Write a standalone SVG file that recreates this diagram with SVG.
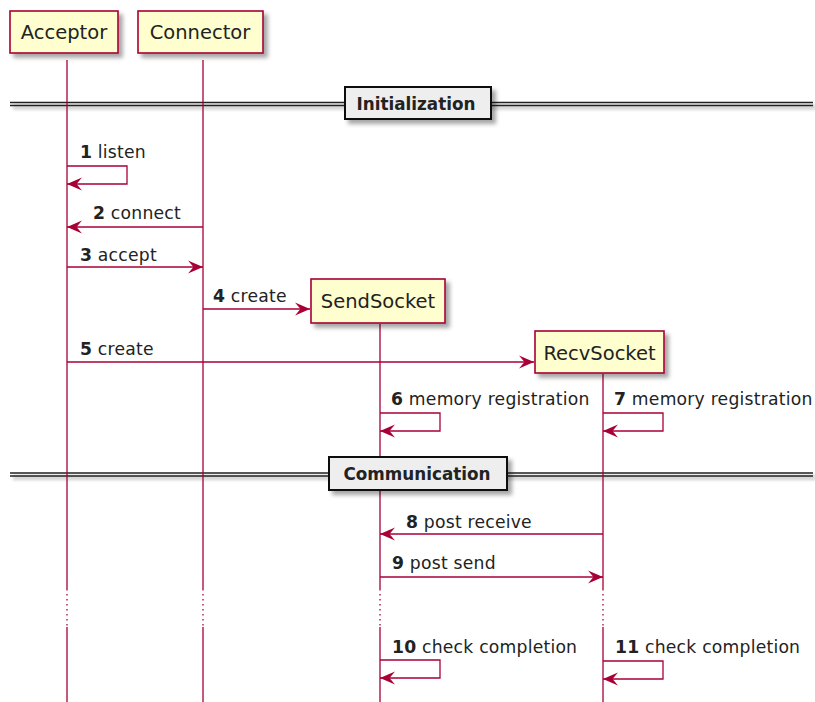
<svg xmlns="http://www.w3.org/2000/svg" width="815" height="702" viewBox="0 0 815 702">
  <style>
    .part { fill: #FEFECE; stroke: #A80036; stroke-width: 1.6; }
    .ptext { font-family: "DejaVu Sans", "Liberation Sans", sans-serif; font-size: 19.5px; fill: #222; text-anchor: middle; }
    .life { stroke: #A80036; stroke-width: 1.3; fill: none; }
    .dots { stroke: #A80036; stroke-width: 1.3; stroke-dasharray: 1.5 3.5; fill: none; }
    .msg { stroke: #A80036; stroke-width: 1.3; fill: none; marker-end: url(#head); }
    .mtext { font-family: "DejaVu Sans", "Liberation Sans", sans-serif; font-size: 17.2px; letter-spacing: 0.22px; fill: #222; }
    .num { font-weight: bold; }
    .sepline { stroke: #222; stroke-width: 1.4; fill: none; }
    .sepbox { fill: #EEEEEE; stroke: #111; stroke-width: 2; }
    .septext { font-family: "DejaVu Sans", "Liberation Sans", sans-serif; font-size: 16.8px; font-weight: bold; fill: #222; text-anchor: middle; }
  </style>
  <defs>
    <filter id="shadow" x="-20%" y="-20%" width="150%" height="180%">
      <feDropShadow dx="4" dy="4" stdDeviation="2" flood-color="#000" flood-opacity="0.35"/>
    </filter>
    <filter id="lineshadow" x="-5%" y="-200%" width="110%" height="600%">
      <feDropShadow dx="3" dy="3" stdDeviation="1.5" flood-color="#000" flood-opacity="0.3"/>
    </filter>
    <marker id="head" viewBox="-16 -8 17 16" refX="0" refY="0" markerWidth="17" markerHeight="16" markerUnits="userSpaceOnUse" orient="auto">
      <path d="M0,0 L-15,-6.5 L-9.5,0 L-15,6.5 Z" fill="#A80036"/>
    </marker>
  </defs>

  <!-- divider rules -->
  <g id="sep-lines" filter="url(#lineshadow)">
    <path class="sepline" d="M10,102.5 H813 M10,105.5 H813"/>
    <path class="sepline" d="M10,473 H813 M10,476 H813"/>
  </g>

  <!-- lifelines -->
  <g id="lifelines">
    <path class="life" d="M67,60 V589 M67,627 V702"/>
    <path class="dots" d="M67,589 V627"/>
    <path class="life" d="M203,60 V589 M203,627 V702"/>
    <path class="dots" d="M203,589 V627"/>
    <path class="life" d="M380,324 V589 M380,627 V702"/>
    <path class="dots" d="M380,589 V627"/>
    <path class="life" d="M603,374 V589 M603,627 V702"/>
    <path class="dots" d="M603,589 V627"/>
  </g>

  <!-- participants -->
  <g id="acceptor">
    <rect class="part" x="10" y="11" width="108" height="42" filter="url(#shadow)"/>
    <text class="ptext" x="64" y="39">Acceptor</text>
  </g>
  <g id="connector">
    <rect class="part" x="138" y="11" width="125" height="42" filter="url(#shadow)"/>
    <text class="ptext" x="200" y="39">Connector</text>
  </g>
  <g id="sendsocket">
    <rect class="part" x="311" y="279" width="134" height="44" filter="url(#shadow)"/>
    <text class="ptext" x="378" y="308">SendSocket</text>
  </g>
  <g id="recvsocket">
    <rect class="part" x="535" y="331" width="129" height="42" filter="url(#shadow)"/>
    <text class="ptext" x="599.5" y="360">RecvSocket</text>
  </g>

  <!-- dividers -->
  <g id="sep-init">
    <rect class="sepbox" x="345" y="87" width="146" height="32" filter="url(#shadow)"/>
    <text class="septext" x="416" y="110">Initialization</text>
  </g>
  <g id="sep-comm">
    <rect class="sepbox" x="329" y="457" width="178" height="33" filter="url(#shadow)"/>
    <text class="septext" x="417" y="480">Communication</text>
  </g>

  <!-- messages -->
  <g id="connectors">
    <path class="msg" d="M67,166 H127 V184 H67"/>
    <path class="msg" d="M203,227 H67"/>
    <path class="msg" d="M67,267 H203"/>
    <path class="msg" d="M203,309 H310"/>
    <path class="msg" d="M67,362 H534"/>
    <path class="msg" d="M380,413 H440 V431 H380"/>
    <path class="msg" d="M603,413 H663 V431 H603"/>
    <path class="msg" d="M603,534 H380"/>
    <path class="msg" d="M380,577 H603"/>
    <path class="msg" d="M380,660 H440 V678 H380"/>
    <path class="msg" d="M603,661 H663 V679 H603"/>
  </g>

  <g id="labels">
    <text class="mtext" x="80" y="158"><tspan class="num">1</tspan> listen</text>
    <text class="mtext" x="93" y="219"><tspan class="num">2</tspan> connect</text>
    <text class="mtext" x="80" y="261"><tspan class="num">3</tspan> accept</text>
    <text class="mtext" x="213" y="302"><tspan class="num">4</tspan> create</text>
    <text class="mtext" x="80" y="355"><tspan class="num">5</tspan> create</text>
    <text class="mtext" x="391" y="405"><tspan class="num">6</tspan> memory registration</text>
    <text class="mtext" x="614" y="405"><tspan class="num">7</tspan> memory registration</text>
    <text class="mtext" x="406" y="528"><tspan class="num">8</tspan> post receive</text>
    <text class="mtext" x="392" y="569"><tspan class="num">9</tspan> post send</text>
    <text class="mtext" x="392" y="653"><tspan class="num">10</tspan> check completion</text>
    <text class="mtext" x="615" y="653"><tspan class="num">11</tspan> check completion</text>
  </g>
</svg>
